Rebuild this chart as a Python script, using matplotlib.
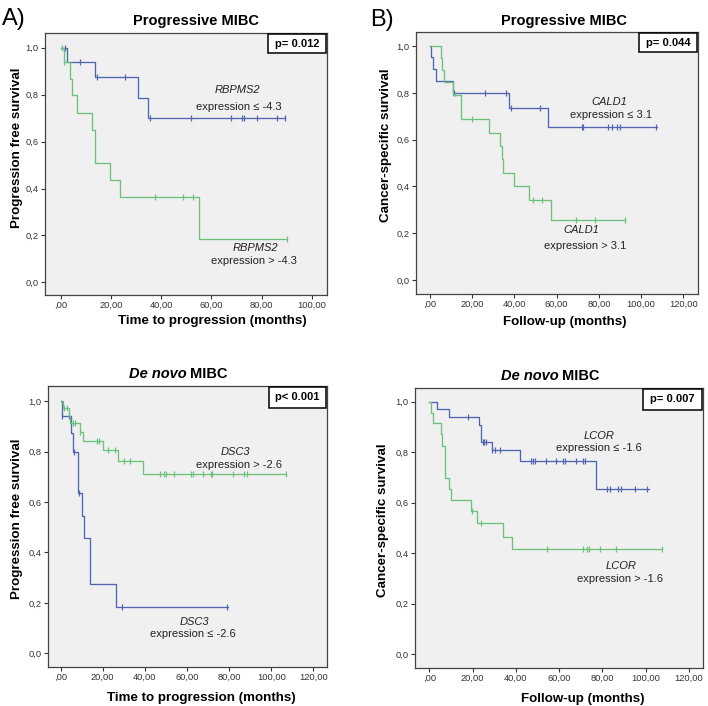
import numpy as np
import matplotlib
matplotlib.use("Agg")
import matplotlib.pyplot as plt
from matplotlib.patches import Rectangle
from matplotlib.ticker import FuncFormatter

plt.rcParams['font.family'] = ['Liberation Sans', 'DejaVu Sans']

BLUE = '#5265b3'
GREEN = '#6cc27a'

# --- A) progressive MIBC, RBPMS2 (progression free survival)
a_blue_t = [0, 2.6, 13.7, 30.7, 34.7]
a_blue_s = [1.0, 0.94, 0.874, 0.787, 0.70]
a_blue_end = 89.4
a_blue_cens = [1.7, 7.7, 14.6, 25.7, 35.6, 51.9, 67.9, 72.4, 73.2, 78.1, 86.1, 89.4]

a_green_t = [0, 1.4, 3.7, 4.6, 6.4, 12.6, 13.7, 19.7, 23.6, 55.0]
a_green_s = [1.0, 0.94, 0.868, 0.797, 0.724, 0.651, 0.507, 0.436, 0.362, 0.183]
a_green_end = 90.0
a_green_cens = [0.6, 1.5, 37.7, 48.9, 52.9, 90.0]

# --- B) progressive MIBC, CALD1 (cancer-specific survival)
b_blue_t = [0, 0.6, 1.4, 2.7, 11.1, 37.4, 56.1]
b_blue_s = [1.0, 0.952, 0.90, 0.852, 0.80, 0.734, 0.654]
b_blue_end = 107.7
b_blue_cens = [11.4, 25.9, 36.0, 38.2, 52.1, 71.8, 72.6, 84.3, 86.1, 88.7, 89.9, 106.9]

b_green_t = [0.6, 5.0, 5.8, 6.8, 11.1, 14.8, 27.9, 33.0, 33.9, 34.7, 39.8, 46.9, 57.2]
b_green_s = [1.0, 0.947, 0.897, 0.847, 0.79, 0.687, 0.63, 0.573, 0.516, 0.459, 0.40, 0.342, 0.256]
b_green_end = 92.2
b_green_cens = [20.1, 48.8, 52.9, 69.0, 78.0, 92.2]

# --- C) de novo MIBC, DSC3 (progression free survival)
c_green_t = [0.6, 1.2, 3.9, 4.4, 9.2, 10.8, 19.9, 27.1, 39.3]
c_green_s = [1.0, 0.971, 0.942, 0.912, 0.879, 0.843, 0.806, 0.762, 0.709]
c_green_end = 107.2
c_green_cens = [1.6, 2.8, 6.0, 6.8, 9.4, 17.1, 18.0, 22.6, 25.8, 30.1, 32.9,
                47.2, 49.1, 49.9, 54.0, 61.9, 62.7, 67.8, 71.3, 72.0, 82.0,
                87.2, 88.7, 107.2]

c_blue_t = [0, 0.5, 4.7, 6.0, 8.4, 10.0, 11.1, 13.9, 26.1]
c_blue_s = [1.0, 0.94, 0.874, 0.80, 0.637, 0.546, 0.456, 0.273, 0.182]
c_blue_end = 79.3
c_blue_cens = [0.6, 4.1, 6.2, 8.7, 29.3, 79.0]

# --- D) de novo MIBC, LCOR (cancer-specific survival)
d_blue_t = [0, 3.7, 9.1, 23.1, 24.0, 28.8, 41.8, 77.1]
d_blue_s = [1.0, 0.97, 0.938, 0.906, 0.842, 0.809, 0.765, 0.656]
d_blue_end = 101.4
d_blue_cens = [18.0, 24.6, 25.5, 26.3, 29.1, 30.3, 32.9, 46.8, 47.8, 48.8,
               54.0, 58.6, 61.8, 62.6, 67.8, 70.9, 71.8, 82.2, 83.7, 87.1,
               88.8, 95.2, 100.6]

d_green_t = [0, 0.9, 1.8, 5.2, 6.0, 7.1, 9.1, 10.2, 19.1, 22.2, 34.0, 38.0]
d_green_s = [1.0, 0.956, 0.914, 0.872, 0.825, 0.699, 0.654, 0.611, 0.569, 0.521, 0.466, 0.416]
d_green_end = 107.5
d_green_cens = [19.8, 23.7, 54.2, 71.1, 72.9, 74.0, 79.1, 86.2, 107.5]

p_values = ['p= 0.012', 'p= 0.044', 'p< 0.001', 'p= 0.007']
y_labels = ['Progression free survival', 'Cancer-specific survival',
            'Progression free survival', 'Cancer-specific survival']
x_labels = ['Time to progression (months)', 'Follow-up (months)',
            'Time to progression (months)', 'Follow-up (months)']


def km(ax, t, s, end, cens, color):
    t = np.asarray(t)
    s = np.asarray(s)
    ax.step(np.r_[t, end], np.r_[s, s[-1]], where='post', color=color, lw=0.95)
    idx = np.searchsorted(t, cens, side='right') - 1
    ax.plot(cens, s[idx], ls='none', marker='|', ms=5, mew=0.9, color=color)


def xfmt(v, pos):
    txt = f"{v:.2f}".replace('.', ',')
    return txt[1:] if abs(v) < 1e-9 else txt


def yfmt(v, pos):
    return f"{v:.1f}".replace('.', ',')


W, H = 708, 706
fig = plt.figure(figsize=(W / 100, H / 100), dpi=100)

# axes rectangles in pixels: left, top, right, bottom
boxes = [(45, 33, 327.3, 295), (415.7, 32, 698.3, 294),
         (48, 385.7, 327.3, 666.7), (415, 387.7, 703.3, 668)]
xlims = [(-6.25, 106.2), (-6.8, 127.1), (-6.0, 126.6), (-6.6, 126.6)]
xticks = [np.arange(0, 101, 20), np.arange(0, 121, 20),
          np.arange(0, 121, 20), np.arange(0, 121, 20)]
ylims = [(-0.054, 1.063), (-0.06, 1.06), (-0.053, 1.061), (-0.054, 1.055)]

axes = []
for (l, t, r, b) in boxes:
    ax = fig.add_axes([l / W, 1 - b / H, (r - l) / W, (b - t) / H])
    axes.append(ax)

curves = [
    [(a_blue_t, a_blue_s, a_blue_end, a_blue_cens, BLUE),
     (a_green_t, a_green_s, a_green_end, a_green_cens, GREEN)],
    [(b_blue_t, b_blue_s, b_blue_end, b_blue_cens, BLUE),
     (b_green_t, b_green_s, b_green_end, b_green_cens, GREEN)],
    [(c_blue_t, c_blue_s, c_blue_end, c_blue_cens, BLUE),
     (c_green_t, c_green_s, c_green_end, c_green_cens, GREEN)],
    [(d_blue_t, d_blue_s, d_blue_end, d_blue_cens, BLUE),
     (d_green_t, d_green_s, d_green_end, d_green_cens, GREEN)],
]

for i, ax in enumerate(axes):
    ax.set_facecolor('#f0f0f0')
    for c in curves[i]:
        km(ax, *c)
    ax.set_xlim(*xlims[i])
    ax.set_ylim(*ylims[i])
    ax.set_xticks(xticks[i])
    ax.set_yticks(np.arange(0, 1.01, 0.2))
    ax.xaxis.set_major_formatter(FuncFormatter(xfmt))
    ax.yaxis.set_major_formatter(FuncFormatter(yfmt))
    ax.tick_params(length=3, width=0.8, pad=1.5, labelsize=6.7,
                   colors='#333333')
    for sp in ax.spines.values():
        sp.set_color('#444444')
        sp.set_linewidth(0.9)
    # p value box
    ax.add_patch(Rectangle((0.79, 0.922), 0.205, 0.073, transform=ax.transAxes,
                           facecolor='white', edgecolor='black', lw=1.1,
                           zorder=5))
    ax.text(0.8925, 0.9585, p_values[i], transform=ax.transAxes, ha='center',
            va='center', fontsize=8, fontweight='bold', zorder=6)

# curve labels
lab = dict(ha='center', va='center', fontsize=8, color='#222222')
axes[0].text(70.6, 0.82, 'RBPMS2', style='italic', **lab)
axes[0].text(71.0, 0.749, 'expression ≤ -4.3', **lab)
axes[0].text(77.4, 0.145, 'RBPMS2', style='italic', **lab)
axes[0].text(77.0, 0.091, 'expression > -4.3', **lab)

axes[1].text(84.8, 0.762, 'CALD1', style='italic', **lab)
axes[1].text(85.9, 0.705, 'expression ≤ 3.1', **lab)
axes[1].text(71.9, 0.214, 'CALD1', style='italic', **lab)
axes[1].text(73.3, 0.145, 'expression > 3.1', **lab)

axes[2].text(82.8, 0.80, 'DSC3', style='italic', **lab)
axes[2].text(84.8, 0.746, 'expression > -2.6', **lab)
axes[2].text(63.5, 0.125, 'DSC3', style='italic', **lab)
axes[2].text(63.0, 0.076, 'expression ≤ -2.6', **lab)

axes[3].text(78.4, 0.865, 'LCOR', style='italic', **lab)
axes[3].text(78.4, 0.815, 'expression ≤ -1.6', **lab)
axes[3].text(88.4, 0.35, 'LCOR', style='italic', **lab)
axes[3].text(87.9, 0.30, 'expression > -1.6', **lab)

# titles
fig.text(195.5 / W, 1 - 20.5 / H, 'Progressive MIBC', ha='center', va='center',
         fontsize=10.5, fontweight='bold')
fig.text(564 / W, 1 - 20.5 / H, 'Progressive MIBC', ha='center', va='center',
         fontsize=10.5, fontweight='bold')
for xr, yc in [(186.7, 373.7), (558.3, 375.7)]:
    fig.text(xr / W, 1 - yc / H, 'De novo', ha='right', va='center',
             fontsize=10.5, fontweight='bold', style='italic')
    fig.text(xr / W + 3.5 / W, 1 - yc / H, 'MIBC', ha='left', va='center',
             fontsize=10.5, fontweight='bold')

# axis labels
xl_pos = [(212, 320.5), (564.7, 321.7), (201.3, 698.3), (582.5, 698.7)]
yl_pos = [(16.7, 147.5), (385.7, 145), (16.7, 518.3), (383, 520)]
for i in range(4):
    fig.text(xl_pos[i][0] / W, 1 - xl_pos[i][1] / H, x_labels[i], ha='center',
             va='center', fontsize=9.6, fontweight='bold')
    fig.text(yl_pos[i][0] / W, 1 - yl_pos[i][1] / H, y_labels[i], ha='center',
             va='center', fontsize=9.6, fontweight='bold', rotation=90)

# panel letters
fig.text(1.5 / W, 1 - 25 / H, 'A)', fontsize=17, va='baseline', ha='left')
fig.text(370.5 / W, 1 - 26 / H, 'B)', fontsize=17, va='baseline', ha='left')

fig.savefig('out.png', dpi=100, facecolor='white')
